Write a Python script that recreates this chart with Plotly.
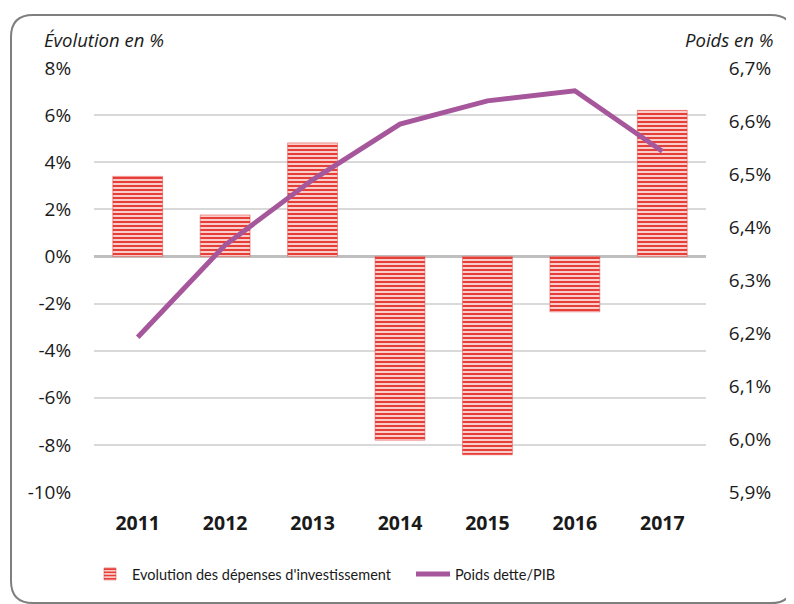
import plotly.graph_objects as go

# Data
years = ["2011", "2012", "2013", "2014", "2015", "2016", "2017"]
evolution_invest = [3.4, 1.76, 4.82, -7.8, -8.42, -2.35, 6.2]
poids_dette_pib = [6.192, 6.366, 6.489, 6.594, 6.638, 6.657, 6.543]

left_ticks = [8, 6, 4, 2, 0, -2, -4, -6, -8, -10]
left_labels = ["8%", "6%", "4%", "2%", "0%", "-2%", "-4%", "-6%", "-8%", "-10%"]
right_ticks = [6.7, 6.6, 6.5, 6.4, 6.3, 6.2, 6.1, 6.0, 5.9]
right_labels = ["6,7%", "6,6%", "6,5%", "6,4%", "6,3%", "6,2%", "6,1%", "6,0%", "5,9%"]

# page body has an 8px margin, so the figure is drawn 8px smaller
OFF = 8
W, H = 794 - OFF, 604 - OFF
ML, MT = 94 - OFF, 68 - OFF
MR, MB = W - (706 - OFF), H - (492 - OFF)
PW, PH = W - ML - MR, H - MT - MB


def px(x):
    # page pixel -> paper x
    return (x - OFF - ML) / PW


def py(y):
    # page pixel -> paper y
    return (H - MB - (y - OFF)) / PH


font = "Open Sans"

fig = go.Figure()

fig.add_trace(go.Bar(
    x=years,
    y=evolution_invest,
    name="Evolution des dépenses d'investissement",
    width=0.57,
    marker=dict(
        color="#f9c9c5",
        line=dict(color="rgba(232,64,60,0.5)", width=1),
        pattern=dict(shape="-", fgcolor="#e63f39", bgcolor="#f9cdc9",
                     size=4, solidity=0.5, fillmode="replace"),
    ),
    yaxis="y",
))

fig.add_trace(go.Scatter(
    x=years,
    y=poids_dette_pib,
    name="Poids dette/PIB",
    mode="lines",
    line=dict(color="#a6579b", width=5),
    yaxis="y2",
))

# rounded frame around the chart
x0, y0, x1, y1, r = 11, 15, 793, 603, 22
path = (
    f"M {px(x0 + r)} {py(y0)} L {px(x1 - r)} {py(y0)} "
    f"Q {px(x1)} {py(y0)} {px(x1)} {py(y0 + r)} "
    f"L {px(x1)} {py(y1 - r)} Q {px(x1)} {py(y1)} {px(x1 - r)} {py(y1)} "
    f"L {px(x0 + r)} {py(y1)} Q {px(x0)} {py(y1)} {px(x0)} {py(y1 - r)} "
    f"L {px(x0)} {py(y0 + r)} Q {px(x0)} {py(y0)} {px(x0 + r)} {py(y0)} Z"
)

fig.update_layout(
    width=W,
    height=H,
    margin=dict(l=ML, r=MR, t=MT, b=MB),
    paper_bgcolor="white",
    plot_bgcolor="white",
    font=dict(family=font, size=19, color="#1a1a1a"),
    showlegend=True,
    legend=dict(
        orientation="h",
        x=px(88), xanchor="left",
        y=py(574), yanchor="middle",
        font=dict(family="Lato", size=14.5),
        itemwidth=34,
        entrywidth=274,
        traceorder="normal",
    ),
    xaxis=dict(
        showgrid=False,
        showline=False,
        ticks="outside",
        ticklen=14,
        tickcolor="rgba(0,0,0,0)",
        tickfont=dict(family=font, size=19.5, color="#1a1a1a", weight="bold"),
    ),
    yaxis=dict(
        range=[-10, 8],
        tickvals=left_ticks,
        ticktext=left_labels,
        showgrid=True,
        gridcolor="#d9d9d9",
        gridwidth=1.5,
        zeroline=True,
        zerolinecolor="#bfbfbf",
        zerolinewidth=3,
        ticks="outside",
        ticklen=18,
        tickcolor="rgba(0,0,0,0)",
        showline=False,
    ),
    yaxis2=dict(
        range=[5.9, 6.7],
        overlaying="y",
        side="right",
        tickvals=right_ticks,
        ticktext=right_labels,
        showgrid=False,
        zeroline=False,
        ticks="outside",
        ticklen=18,
        tickcolor="rgba(0,0,0,0)",
        showline=False,
    ),
    shapes=[dict(
        type="path", path=path, xref="paper", yref="paper",
        line=dict(color="#7f7f7f", width=2), fillcolor="rgba(0,0,0,0)",
        layer="below",
    )],
    annotations=[
        dict(text="<i>Évolution en %</i>", xref="paper", yref="paper",
             x=px(42), y=py(40), xanchor="left", yanchor="middle",
             showarrow=False, font=dict(size=18.5)),
        dict(text="<i>Poids en %</i>", xref="paper", yref="paper",
             x=px(775), y=py(40), xanchor="right", yanchor="middle",
             showarrow=False, font=dict(size=18.5)),
    ],
)

fig.write_html("out.html")
